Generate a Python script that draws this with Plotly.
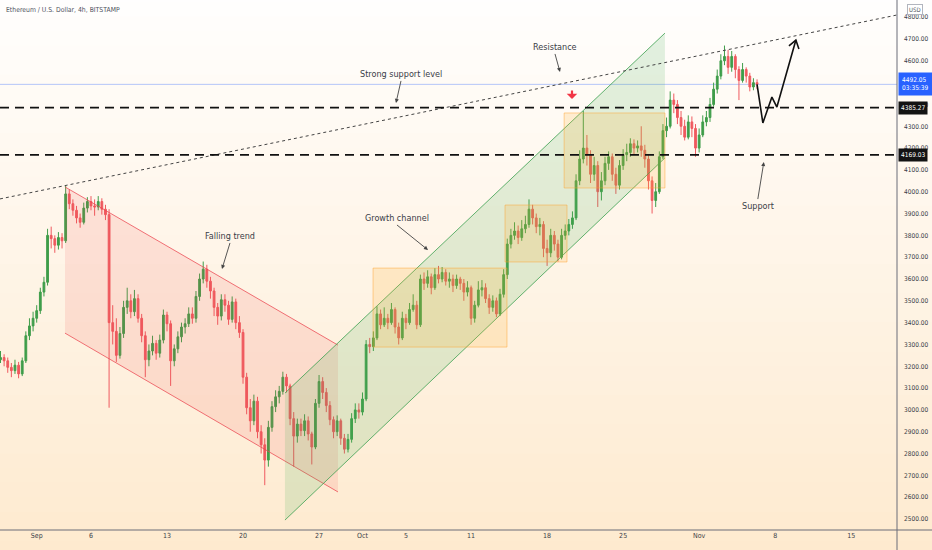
import pandas as pd
import plotly.graph_objects as go

# ETH/USD candles (8h buckets), open = previous close
first_open = 3230
closes = [3240, 3225, 3195, 3180, 3205, 3165, 3225, 3340, 3385, 3420,
          3455, 3540, 3585, 3800, 3785, 3755, 3790, 3775, 3990, 3945,
          3915, 3880, 3860, 3925, 3955, 3935, 3930, 3955, 3920, 3895,
          3400, 3360, 3250, 3350, 3470, 3500, 3450, 3510, 3420, 3340,
          3230, 3270, 3305, 3260, 3320, 3435, 3395, 3225, 3280, 3335,
          3380, 3395, 3440, 3420, 3520, 3600, 3645, 3590, 3545, 3470,
          3430, 3505, 3480, 3415, 3495, 3400, 3355, 3150, 3010, 2950,
          3040, 2900, 2840, 2770, 2920, 3015, 3060, 3085, 3150, 3110,
          2960, 2880, 2935, 2905, 2950, 2890, 2830, 3030, 3130, 3080,
          3020, 2955, 2900, 2950, 2870, 2820, 2865, 2960, 3000, 2990,
          3050, 3300, 3290, 3330, 3440, 3390, 3420, 3400, 3460, 3380,
          3330, 3420, 3400, 3460, 3480, 3390, 3600, 3580, 3610, 3560,
          3620, 3600, 3630, 3590, 3600, 3570, 3600, 3580, 3540, 3560,
          3420, 3480, 3550, 3560, 3510, 3470, 3500, 3440, 3530, 3620,
          3760, 3800, 3820, 3790, 3830, 3850, 3920, 3880, 3840, 3850,
          3740, 3720, 3800, 3760, 3700, 3800, 3820, 3850, 3880, 4050,
          4150, 4200, 4170, 4080, 4120, 4000, 4050, 4130, 4160, 4080,
          4030, 4120, 4170, 4180, 4220, 4200, 4210, 4190, 4150, 4050,
          3960, 4000, 4160, 4280, 4300, 4420, 4400, 4340, 4300, 4250,
          4320, 4290, 4200, 4260, 4320, 4340, 4400, 4470, 4530, 4600,
          4620, 4570, 4620, 4560, 4510, 4560, 4530, 4480, 4500, 4492]
highs = [3270, 3255, 3240, 3215, 3230, 3220, 3240, 3360, 3420, 3450,
         3480, 3560, 3610, 3830, 3840, 3800, 3815, 3810, 4027, 4010,
         3965, 3935, 3900, 3950, 3975, 3980, 3965, 3980, 3970, 3940,
         3920, 3480, 3420, 3380, 3500, 3560, 3530, 3550, 3530, 3440,
         3360, 3300, 3340, 3320, 3345, 3460, 3450, 3410, 3300, 3360,
         3400, 3420, 3470, 3470, 3545, 3625, 3680, 3665, 3610, 3560,
         3490, 3530, 3530, 3500, 3520, 3510, 3430, 3370, 3170, 3050,
         3070, 3060, 2930, 2870, 2950, 3040, 3090, 3110, 3175, 3165,
         3120, 2990, 2960, 2960, 2980, 2970, 2900, 3050, 3160, 3150,
         3100, 3040, 2970, 2975, 2960, 2890, 2890, 2985, 3030, 3030,
         3080, 3320, 3330, 3360, 3475, 3460, 3470, 3440, 3490, 3470,
         3400, 3450, 3440, 3490, 3530, 3500, 3620, 3630, 3640, 3625,
         3650, 3660, 3655, 3645, 3630, 3620, 3620, 3610, 3600, 3590,
         3570, 3500, 3590, 3595, 3580, 3530, 3525, 3515, 3555, 3645,
         3785, 3830, 3860, 3845, 3870, 3890, 3965, 3940, 3900, 3880,
         3865, 3780, 3830, 3820, 3780, 3830, 3850, 3875, 3910, 4080,
         4190, 4370, 4260, 4190, 4160, 4140, 4090, 4160, 4185, 4175,
         4110, 4145, 4195, 4220, 4245, 4240, 4235, 4300, 4215, 4170,
         4070, 4040, 4185, 4310, 4340, 4460, 4450, 4420, 4370, 4330,
         4350, 4345, 4310, 4290, 4350, 4370, 4430, 4500, 4560, 4630,
         4670, 4650, 4645, 4630, 4575, 4590, 4570, 4545, 4520, 4515]
lows = [3215, 3200, 3170, 3150, 3165, 3145, 3155, 3215, 3320, 3360,
        3400, 3440, 3520, 3570, 3740, 3720, 3735, 3740, 3765, 3920,
        3890, 3855, 3835, 3850, 3905, 3915, 3890, 3915, 3895, 3870,
        3010, 3300, 3220, 3235, 3330, 3440, 3420, 3430, 3400, 3310,
        3150, 3200, 3250, 3230, 3240, 3305, 3360, 3110, 3200, 3260,
        3310, 3350, 3380, 3395, 3400, 3500, 3580, 3560, 3510, 3430,
        3390, 3410, 3450, 3390, 3400, 3370, 3330, 3120, 2980, 2900,
        2930, 2870, 2800, 2655, 2740, 2900, 2990, 3030, 3070, 3080,
        2930, 2740, 2850, 2880, 2880, 2860, 2750, 2820, 3010, 3050,
        2990, 2930, 2870, 2880, 2840, 2800, 2805, 2850, 2940, 2960,
        2975, 3040, 3260, 3270, 3320, 3370, 3380, 3370, 3390, 3350,
        3300, 3320, 3370, 3390, 3450, 3370, 3380, 3550, 3560, 3530,
        3550, 3580, 3585, 3570, 3560, 3540, 3555, 3550, 3500, 3520,
        3390, 3400, 3470, 3520, 3490, 3440, 3450, 3425, 3430, 3515,
        3600, 3740, 3780, 3760, 3775, 3810, 3835, 3850, 3810, 3800,
        3700, 3660, 3700, 3730, 3680, 3690, 3780, 3800, 3830, 3870,
        4030, 4130, 4120, 4040, 4050, 3930, 3960, 4030, 4100, 4050,
        3990, 4010, 4100, 4140, 4160, 4170, 4180, 4160, 4110, 4010,
        3900, 3930, 3990, 4150, 4250, 4290, 4360, 4310, 4260, 4235,
        4240, 4250, 4160, 4180, 4250, 4300, 4320, 4390, 4450, 4515,
        4580, 4540, 4550, 4520, 4420, 4500, 4500, 4460, 4465, 4470]

last_price = 4492.05
level_upper = 4385.27
level_lower = 4169.03

tick_dates = ["2021-09-01", "2021-09-06", "2021-09-13", "2021-09-20", "2021-09-27",
              "2021-10-01", "2021-10-05", "2021-10-11", "2021-10-18", "2021-10-25",
              "2021-11-01", "2021-11-08", "2021-11-15"]
tick_labels = ["Sep", "6", "13", "20", "27", "Oct", "5", "11", "18", "25", "Nov", "8", "15"]

opens = [first_open] + closes[:-1]
highs = [max(h, o, c) for h, o, c in zip(highs, opens, closes)]
lows = [min(l, o, c) for l, o, c in zip(lows, opens, closes)]
times = pd.date_range("2021-08-28 16:00", periods=len(closes), freq="8h")

FONT = "DejaVu Sans Condensed, DejaVu Sans, sans-serif"
TXT = "#3a3d47"

fig = go.Figure()

# falling channel
fig.add_trace(go.Scatter(
    x=["2021-09-03 14:30", "2021-09-28 17:50", "2021-09-28 17:50", "2021-09-03 14:30", "2021-09-03 14:30"],
    y=[4022, 3297, 2624, 3352, 4022],
    fill="toself", fillcolor="rgba(242,80,80,0.13)", mode="lines",
    line=dict(color="rgba(0,0,0,0)", width=0), hoverinfo="skip", showlegend=False))
fig.add_trace(go.Scatter(
    x=["2021-09-03 14:30", "2021-09-28 17:50", None, "2021-09-03 14:30", "2021-09-28 17:50"],
    y=[4022, 3297, None, 3352, 2624], mode="lines",
    line=dict(color="rgba(235,70,80,0.75)", width=1), hoverinfo="skip", showlegend=False))

# growth channel
fig.add_trace(go.Scatter(
    x=["2021-09-23 20:40", "2021-10-28 20:25", "2021-10-28 20:25", "2021-09-23 20:40", "2021-09-23 20:40"],
    y=[3077, 4727, 4155, 2495, 3077],
    fill="toself", fillcolor="rgba(80,175,90,0.17)", mode="lines",
    line=dict(color="rgba(0,0,0,0)", width=0), hoverinfo="skip", showlegend=False))
fig.add_trace(go.Scatter(
    x=["2021-09-23 20:40", "2021-10-28 20:25", None, "2021-09-23 20:40", "2021-10-28 20:25"],
    y=[3077, 4727, None, 2495, 4155], mode="lines",
    line=dict(color="rgba(60,160,80,0.8)", width=1), hoverinfo="skip", showlegend=False))

# consolidation boxes
boxes = [("2021-10-01 23:20", "2021-10-14 07:20", 3288, 3650),
         ("2021-10-14 03:00", "2021-10-19 20:00", 3678, 3939),
         ("2021-10-19 13:40", "2021-10-28 20:25", 4017, 4361)]
for x0, x1, y0, y1 in boxes:
    fig.add_trace(go.Scatter(
        x=[x0, x1, x1, x0, x0], y=[y0, y0, y1, y1, y0],
        fill="toself", fillcolor="rgba(255,170,40,0.18)", mode="lines",
        line=dict(color="rgba(255,160,40,0.45)", width=1),
        hoverinfo="skip", showlegend=False))

fig.add_trace(go.Candlestick(
    x=times, open=opens, high=highs, low=lows, close=closes,
    increasing=dict(line=dict(color="#3f9d4a", width=1), fillcolor="#3f9d4a"),
    decreasing=dict(line=dict(color="#ef5a5f", width=1), fillcolor="#ef5a5f"),
    whiskerwidth=0, showlegend=False, hoverinfo="skip"))

# projected move
fig.add_trace(go.Scatter(
    x=[times[-1], "2021-11-06 20:50", "2021-11-07 16:50", "2021-11-08 03:50", "2021-11-09 21:50",
       None, "2021-11-09 06:30", "2021-11-09 21:50", "2021-11-10 04:30"],
    y=[closes[-1], 4315, 4434, 4388, 4695, None, 4668, 4695, 4654],
    mode="lines", line=dict(color="#111111", width=1.6),
    hoverinfo="skip", showlegend=False))

# background gradient
shapes = []
n = 40
for i in range(n):
    t = i / (n - 1)
    r = round(255 - 1 * t)
    g = round(255 - 21 * t)
    b = round(255 - 48 * t)
    shapes.append(dict(type="rect", xref="paper", yref="paper", x0=-0.1, x1=1.1,
                       y0=1.05 - (i + 1) * 1.1 / n, y1=1.05 - i * 1.1 / n + 0.002,
                       fillcolor=f"rgb({r},{g},{b})", line=dict(width=0), layer="below"))

x_start, x_end = "2021-08-28 14:54", "2021-11-19 05:17"
shapes += [
    dict(type="line", xref="paper", yref="y", x0=0, x1=1, y0=last_price, y1=last_price,
         line=dict(color="rgba(41,98,255,0.35)", width=1), layer="below"),
    dict(type="line", xref="x", yref="y", x0=x_start, x1=x_end, y0=3967, y1=4810,
         line=dict(color="#444444", width=1, dash="3px,3px"), layer="above"),
    dict(type="line", xref="paper", yref="y", x0=0, x1=1, y0=level_upper, y1=level_upper,
         line=dict(color="#111111", width=1.8, dash="9px,6px"), layer="above"),
    dict(type="line", xref="paper", yref="y", x0=0, x1=1, y0=level_lower, y1=level_lower,
         line=dict(color="#111111", width=1.8, dash="9px,6px"), layer="above"),
    # axis frame running into the scale areas
    dict(type="line", xref="paper", yref="paper", x0=0, x1=1.05, y0=0, y1=0,
         line=dict(color="#6a6d78", width=1)),
    dict(type="line", xref="paper", yref="paper", x0=1, x1=1, y0=-0.05, y1=1,
         line=dict(color="#6a6d78", width=1)),
]

annotations = [
    dict(xref="paper", yref="paper", x=0.004, y=0.992, xanchor="left", yanchor="top",
         text="Ethereum / U.S. Dollar, 4h, BITSTAMP", showarrow=False,
         font=dict(size=6.8, color="#50535e", family=FONT)),
    dict(xref="paper", yref="paper", x=1.0, y=0.993, xanchor="left", yanchor="top", xshift=10,
         text="USD", showarrow=False, bgcolor="white", bordercolor="#b2b5be", borderwidth=1,
         borderpad=1, font=dict(size=6, color="#50535e", family=FONT)),
    dict(xref="paper", yref="y", x=1.0, y=last_price, xanchor="left", yanchor="middle", xshift=1,
         text="4492.05<br>03:35:39", showarrow=False, bgcolor="#2962ff", borderpad=3, align="left",
         font=dict(size=6.5, color="white", family=FONT)),
    dict(xref="paper", yref="y", x=1.0, y=level_upper, xanchor="left", yanchor="middle", xshift=1,
         text="4385.27", showarrow=False, bgcolor="#131313", borderpad=2,
         font=dict(size=6.5, color="white", family=FONT)),
    dict(xref="paper", yref="y", x=1.0, y=level_lower, xanchor="left", yanchor="middle", xshift=1,
         text="4169.03", showarrow=False, bgcolor="#131313", borderpad=2,
         font=dict(size=6.5, color="white", family=FONT)),
    # red marker arrow
    dict(x="2021-10-20 07:00", y=4425, ax=0, ay=-10, text="", showarrow=True,
         arrowhead=1, arrowsize=0.8, arrowwidth=2.2, arrowcolor="#f23645"),
]

labels = [("Falling trend", "2021-09-18 01:30", 3646, 8, -26, "bottom"),
          ("Growth channel", "2021-10-07 00:45", 3733, -31, -25, "bottom"),
          ("Resistance", "2021-10-19 04:30", 4549, -5, -18, "bottom"),
          ("Strong support level", "2021-10-04 02:00", 4407, 5, -22, "bottom"),
          ("Support", "2021-11-06 23:00", 4136, -6, 37, "top")]
for text, x, y, ax, ay, anchor in labels:
    annotations.append(dict(x=x, y=y, ax=ax, ay=ay, text=text, showarrow=True,
                            arrowhead=2, arrowsize=0.9, arrowwidth=0.9, arrowcolor="#444444",
                            yanchor=anchor, font=dict(size=9, color=TXT, family=FONT)))

fig.update_layout(
    width=932, height=550,
    margin=dict(l=0, r=35, t=0, b=20),
    paper_bgcolor="white", plot_bgcolor="rgba(0,0,0,0)",
    shapes=shapes, annotations=annotations,
    xaxis=dict(range=[x_start, x_end], type="date", rangeslider=dict(visible=False),
               tickvals=tick_dates, ticktext=tick_labels, showgrid=False, zeroline=False,
               showline=False, ticks="", automargin=False,
               tickfont=dict(size=7, color="#3a3d47", family=FONT)),
    yaxis=dict(range=[2449.6, 4878.7], side="right", dtick=100, tick0=2500, tickformat=".2f",
               showgrid=False, zeroline=False, showline=False,
               ticks="", automargin=False, ticklabelstandoff=6,
               tickfont=dict(size=6.5, color="#3a3d47", family=FONT)),
    font=dict(family=FONT),
)

fig.write_html("out.html", config={"displayModeBar": False},
               post_script="document.body.style.margin='0';")
